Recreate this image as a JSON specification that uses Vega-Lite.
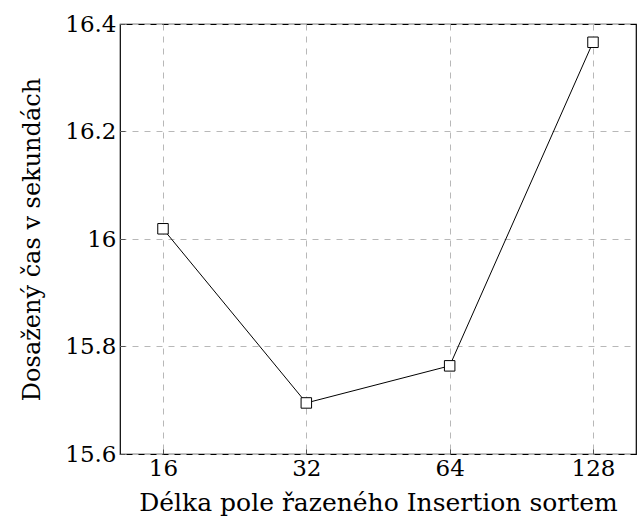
{
  "$schema": "https://vega.github.io/schema/vega-lite/v6.json",
  "width": 516,
  "height": 430,
  "autosize": {"type": "none"},
  "padding": {"left": 120, "top": 24, "right": 1, "bottom": 77},
  "background": "white",
  "config": {
    "view": {"stroke": "black", "strokeWidth": 1.2},
    "axis": {
      "labelFont": "DejaVu Serif",
      "titleFont": "DejaVu Serif",
      "labelFontSize": 23,
      "titleFontSize": 25,
      "labelColor": "black",
      "titleColor": "black",
      "titleFontWeight": "normal",
      "domain": false,
      "ticks": true,
      "tickColor": "#555",
      "tickSize": -5,
      "grid": true,
      "gridColor": "#b8b8b8",
      "gridDash": [6, 6],
      "gridWidth": 1
    }
  },
  "data": {
    "values": [
      {"n": 16, "t": 16.019},
      {"n": 32, "t": 15.695},
      {"n": 64, "t": 15.764},
      {"n": 128, "t": 16.366}
    ]
  },
  "encoding": {
    "x": {
      "field": "n",
      "type": "quantitative",
      "scale": {"type": "log", "base": 2, "domain": [12.996, 157.59], "nice": false},
      "axis": {
        "values": [16, 32, 64, 128],
        "format": "d",
        "title": "Délka pole řazeného Insertion sortem",
        "labelPadding": 8,
        "titlePadding": 10
      }
    },
    "y": {
      "field": "t",
      "type": "quantitative",
      "scale": {"domain": [15.6, 16.4], "nice": false, "zero": false},
      "axis": {
        "values": [15.6, 15.8, 16, 16.2, 16.4],
        "format": "~g",
        "title": "Dosažený čas v sekundách",
        "titleFontSize": 24,
        "labelPadding": 9,
        "titlePadding": 20
      }
    }
  },
  "layer": [
    {"mark": {"type": "line", "color": "black", "strokeWidth": 1}},
    {"mark": {"type": "point", "shape": "square", "size": 110, "filled": false, "stroke": "black", "strokeWidth": 1, "opacity": 1, "fill": "white"}}
  ]
}
